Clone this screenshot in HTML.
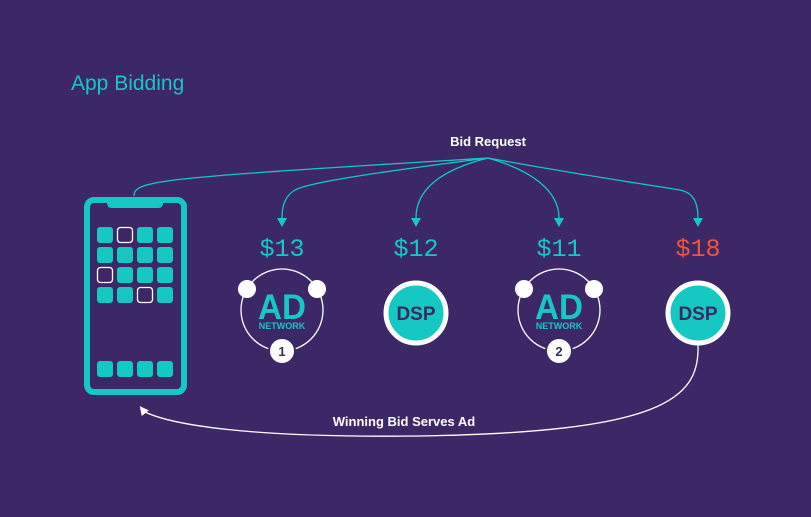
<!DOCTYPE html>
<html><head><style>
body{margin:0;background:#3c2866;}
svg{display:block}
</style></head><body>
<svg width="811" height="517" viewBox="0 0 811 517" xmlns="http://www.w3.org/2000/svg">
<rect width="811" height="517" fill="#3c2866"/>
<text x="71" y="90" font-family="Liberation Sans, sans-serif" font-size="21" fill="#16c8c2">App Bidding</text>
<text x="488" y="146" text-anchor="middle" font-family="Liberation Sans, sans-serif" font-size="13" font-weight="bold" fill="#fff">Bid Request</text>
<g fill="none" stroke="#16c8c2" stroke-width="1.3">
<path d="M134 196 C134 180 160 178 488 158"/>
<path d="M488 158 C380 172 310 182 295 190 C283 197 282 210 282 218"/>
<path d="M488 158 C440 170 416 190 416 218"/>
<path d="M488 158 C530 170 559 190 559 218"/>
<path d="M488 158 C580 175 650 185 680 190 C695 193 698 205 698 218"/>
</g>
<g fill="#16c8c2">
<path d="M277 218 L287 218 L282 227 Z"/>
<path d="M411 218 L421 218 L416 227 Z"/>
<path d="M554 218 L564 218 L559 227 Z"/>
<path d="M693 218 L703 218 L698 227 Z"/>
</g>
<g font-family="Liberation Mono, monospace" font-size="25" text-anchor="middle">
<text x="282" y="256" fill="#16c8c2">$13</text>
<text x="416" y="256" fill="#16c8c2">$12</text>
<text x="559" y="256" fill="#16c8c2">$11</text>
<text x="698" y="256" fill="#f0533e">$18</text>
</g>
<rect x="87" y="200" width="97" height="192" rx="7" fill="none" stroke="#16c8c2" stroke-width="6"/>
<path d="M107 200 L163 200 L163 203 Q163 208 158 208 L112 208 Q107 208 107 203 Z" fill="#16c8c2"/>
<g fill="#16c8c2">
<rect x="97" y="227" width="16" height="16" rx="3"/><rect x="137" y="227" width="16" height="16" rx="3"/><rect x="157" y="227" width="16" height="16" rx="3"/>
<rect x="97" y="247" width="16" height="16" rx="3"/><rect x="117" y="247" width="16" height="16" rx="3"/><rect x="137" y="247" width="16" height="16" rx="3"/><rect x="157" y="247" width="16" height="16" rx="3"/>
<rect x="117" y="267" width="16" height="16" rx="3"/><rect x="137" y="267" width="16" height="16" rx="3"/><rect x="157" y="267" width="16" height="16" rx="3"/>
<rect x="97" y="287" width="16" height="16" rx="3"/><rect x="117" y="287" width="16" height="16" rx="3"/><rect x="157" y="287" width="16" height="16" rx="3"/>
<rect x="97" y="361" width="16" height="16" rx="3"/><rect x="117" y="361" width="16" height="16" rx="3"/><rect x="137" y="361" width="16" height="16" rx="3"/><rect x="157" y="361" width="16" height="16" rx="3"/>
</g>
<g fill="none" stroke="#fff" stroke-width="1.3">
<rect x="117.5" y="227.5" width="15" height="15" rx="3"/>
<rect x="97.5" y="267.5" width="15" height="15" rx="3"/>
<rect x="137.5" y="287.5" width="15" height="15" rx="3"/>
</g>
<g transform="translate(282,310)">
<circle r="41" fill="none" stroke="#fff" stroke-width="1.3"/>
<circle cx="-35" cy="-21" r="9" fill="#fff"/><circle cx="35" cy="-21" r="9" fill="#fff"/>
<circle cx="0" cy="41" r="13" fill="#fff" stroke="#3c2866" stroke-width="2"/>
<text y="46" text-anchor="middle" font-family="Liberation Sans, sans-serif" font-size="13" font-weight="bold" fill="#3c2866">1</text>
<text y="9" text-anchor="middle" font-family="Liberation Sans, sans-serif" font-size="35" font-weight="bold" fill="#16c8c2" textLength="48" lengthAdjust="spacingAndGlyphs">AD</text>
<text y="19" text-anchor="middle" font-family="Liberation Sans, sans-serif" font-size="9" font-weight="bold" fill="#16c8c2">NETWORK</text>
</g>
<g transform="translate(559,310)">
<circle r="41" fill="none" stroke="#fff" stroke-width="1.3"/>
<circle cx="-35" cy="-21" r="9" fill="#fff"/><circle cx="35" cy="-21" r="9" fill="#fff"/>
<circle cx="0" cy="41" r="13" fill="#fff" stroke="#3c2866" stroke-width="2"/>
<text y="46" text-anchor="middle" font-family="Liberation Sans, sans-serif" font-size="13" font-weight="bold" fill="#3c2866">2</text>
<text y="9" text-anchor="middle" font-family="Liberation Sans, sans-serif" font-size="35" font-weight="bold" fill="#16c8c2" textLength="48" lengthAdjust="spacingAndGlyphs">AD</text>
<text y="19" text-anchor="middle" font-family="Liberation Sans, sans-serif" font-size="9" font-weight="bold" fill="#16c8c2">NETWORK</text>
</g>
<g font-family="Liberation Sans, sans-serif" font-size="19" font-weight="bold" text-anchor="middle" fill="#3c2866">
<circle cx="416" cy="313" r="30" fill="#16c8c2" stroke="#fff" stroke-width="5"/>
<text x="416" y="320">DSP</text>
<circle cx="698" cy="313" r="30" fill="#16c8c2" stroke="#fff" stroke-width="5"/>
<text x="698" y="320">DSP</text>
</g>
<path d="M698 345 C700 400 660 432 420 436 C250 438 170 425 143 411" fill="none" stroke="#fff" stroke-width="1.3"/>
<path d="M138 408 L148 408 L144 416 Z" fill="#fff" transform="rotate(25 143 411)"/>
<text x="404" y="426" text-anchor="middle" font-family="Liberation Sans, sans-serif" font-size="13" font-weight="bold" fill="#fff">Winning Bid Serves Ad</text>
</svg>
</body></html>
